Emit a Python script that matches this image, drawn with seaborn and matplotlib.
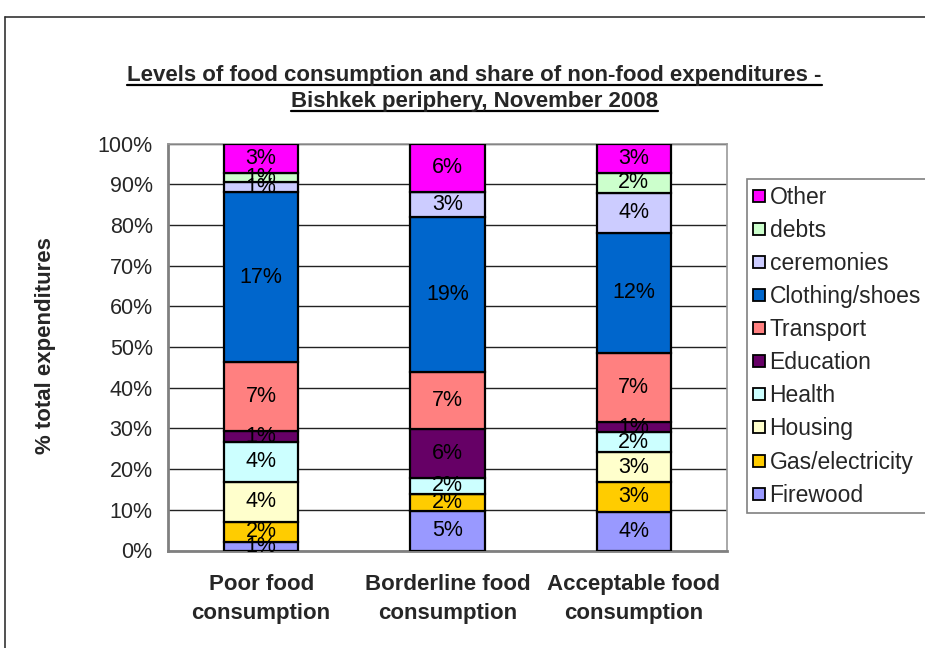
import matplotlib
matplotlib.use("Agg")
import matplotlib.pyplot as plt
import pandas as pd
import seaborn as sns
from matplotlib.lines import Line2D
from matplotlib.ticker import PercentFormatter, FixedLocator

# Expenditure items (bottom to top of each bar)
items = ["Firewood", "Gas/electricity", "Housing", "Health", "Education",
         "Transport", "Clothing/shoes", "ceremonies", "debts", "Other"]
item_colors = ["#9999FF", "#FFCC00", "#FFFFCC", "#CCFFFF", "#660066",
               "#FF8080", "#0066CC", "#CCCCFF", "#CCFFCC", "#FF00FF"]

groups = ["Poor food\nconsumption", "Borderline food\nconsumption",
          "Acceptable food\nconsumption"]

# Share of total expenditure (%) spent on each non-food item
poor = [0.9, 2.0, 4.0, 4.0, 1.1, 6.9, 17.1, 1.0, 0.9, 3.0]
borderline = [4.85, 2.05, 0.0, 2.05, 6.0, 7.0, 19.0, 3.1, 0.0, 5.95]
acceptable = [3.9, 2.95, 3.0, 2.0, 1.0, 7.0, 12.05, 4.0, 2.0, 2.95]

y_ticks = [0.0, 0.1, 0.2, 0.3, 0.4, 0.5, 0.6, 0.7, 0.8, 0.9, 1.0]

title_lines = ["Levels of food consumption and share of non-food expenditures -",
               "Bishkek periphery, November 2008"]
y_label = "% total expenditures"

series = [poor, borderline, acceptable]
rows = []
for gi, vals in enumerate(series):
    for item, v in zip(items, vals):
        rows.append({"group": gi, "item": item, "value": v})
df = pd.DataFrame(rows)

sns.set_style("white")
plt.rcParams["font.family"] = ["Liberation Sans", "DejaVu Sans"]

W, H = 925, 648
fig = plt.figure(figsize=(W / 100, H / 100), dpi=100)
fig.patch.set_facecolor("white")
ax = fig.add_axes([168 / W, 1 - 550.5 / H, 559 / W, 407 / H])

palette = dict(zip(items, item_colors))
sns.histplot(data=df, x="group", hue="item", weights="value",
             hue_order=items[::-1], palette=palette, multiple="fill",
             discrete=True, shrink=0.4, alpha=1, edgecolor="black",
             linewidth=1.6, legend=False, ax=ax, zorder=3)

# Segment labels: each item's share of total expenditure
for gi, vals in enumerate(series):
    total = sum(vals)
    cum = 0.0
    for v in vals:
        if v > 0:
            ax.text(gi, (cum + v / 2) / total, f"{v:.0f}%", ha="center",
                    va="center", fontsize=15.5, color="black", zorder=5)
        cum += v

ax.set_xlim(-0.5, 2.5)
ax.set_ylim(0, 1)
ax.yaxis.set_major_locator(FixedLocator(y_ticks))
ax.yaxis.set_major_formatter(PercentFormatter(1.0, decimals=0))
ax.set_xticks(range(len(groups)))
ax.set_xticklabels(groups, fontsize=16, fontweight="bold", linespacing=1.5)
ax.tick_params(axis="x", length=0, pad=17)
ax.tick_params(axis="y", direction="out", length=5, width=1, color="#222222",
               labelsize=15.5, pad=6)
ax.set_xlabel("")
ax.set_ylabel("")
ax.grid(axis="y", color="#222222", linewidth=1, zorder=0)
ax.grid(axis="x", visible=False)
ax.set_axisbelow(True)
for side in ["left", "bottom"]:
    ax.spines[side].set_color("#808080")
    ax.spines[side].set_linewidth(2)
for side in ["top", "right"]:
    ax.spines[side].set_color("#999999")
    ax.spines[side].set_linewidth(1.2)
    ax.spines[side].set_visible(True)

fig.text(46 / W, 1 - 346 / H, y_label, rotation=90, ha="center", va="center",
         fontsize=16, fontweight="bold")

# Legend, top entry first
handles = [Line2D([], [], marker="s", linestyle="none", markersize=8.5,
                  markerfacecolor=c, markeredgecolor="black", markeredgewidth=1.3)
           for c in item_colors[::-1]]
leg = fig.legend(handles, items[::-1], loc="upper left",
                 bbox_to_anchor=(746.7 / W, 1 - 179 / H),
                 bbox_transform=fig.transFigure, frameon=True, fancybox=False,
                 edgecolor="#808080", framealpha=1, borderaxespad=0,
                 borderpad=0.3, handlelength=0.5, handletextpad=0.2,
                 labelspacing=0.44, prop={"size": 16.5})
leg.get_frame().set_linewidth(1.2)

# Title with underlines
title_texts = []
for i, line in enumerate(title_lines):
    t = fig.text(474.5 / W, 1 - (75 + 26 * i) / H, line, ha="center",
                 va="center", fontsize=16, fontweight="bold")
    title_texts.append(t)

# Outer chart border
fig.add_artist(Line2D([5 / W, 5 / W], [0, 1 - 17 / H], transform=fig.transFigure,
                      color="#333333", linewidth=1.2))
fig.add_artist(Line2D([5 / W, 1], [1 - 17 / H, 1 - 17 / H], transform=fig.transFigure,
                      color="#333333", linewidth=1.2))

fig.canvas.draw()
renderer = fig.canvas.get_renderer()
for t in title_texts:
    bb = t.get_window_extent(renderer)
    yl = (bb.y0 + 1) / H
    fig.add_artist(Line2D([bb.x0 / W, bb.x1 / W], [yl, yl],
                          transform=fig.transFigure, color="black", linewidth=1.6))

fig.savefig("out.png", dpi=100)
